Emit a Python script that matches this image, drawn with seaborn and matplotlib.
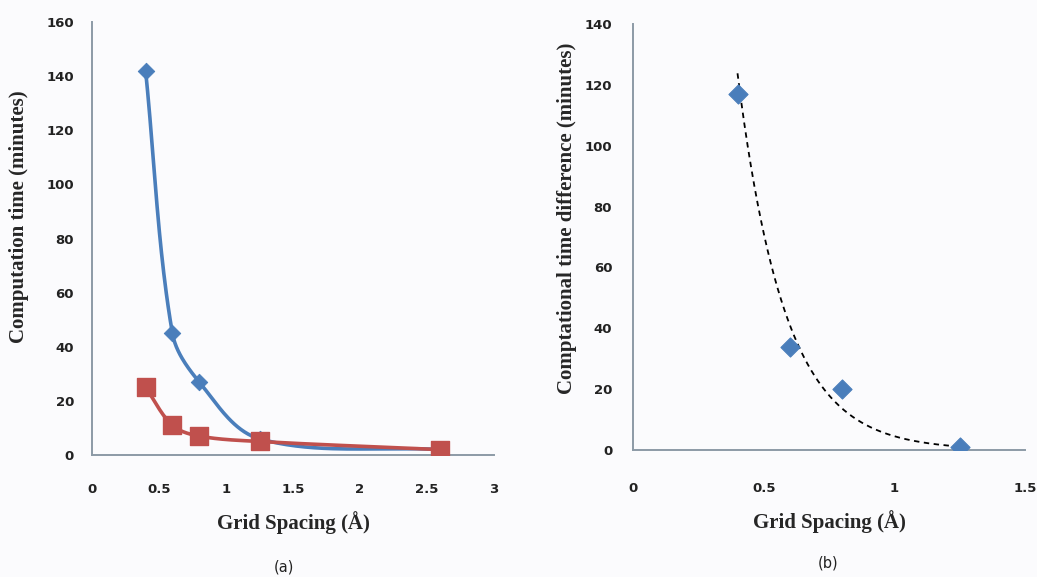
import numpy as np
import pandas as pd
import seaborn as sns
import matplotlib.pyplot as plt

# panel (a): computation time vs grid spacing
spacing_a = [0.4, 0.6, 0.8, 1.25, 2.6]
time_blue = [142, 45, 27, 6, 2]
time_red = [25, 11, 7, 5, 2]

# panel (b): time difference vs grid spacing
spacing_b = [0.4, 0.6, 0.8, 1.25]
time_diff = [117, 34, 20, 1]

BLUE = '#4a7ebb'
RED = '#c0504d'
SPINE = '#8c9aa6'
BG = '#fbfbfd'


def smooth_curve(x, y, xscale, yscale, n=40):
    """Smoothed line through the points (bezier, handles scaled by segment length)."""
    p = np.column_stack([np.asarray(x) / xscale, np.asarray(y) / yscale])
    out = []
    for i in range(len(p) - 1):
        p1, p2 = p[i], p[i + 1]
        p0 = p[i - 1] if i > 0 else p1
        p3 = p[i + 2] if i + 2 < len(p) else p2
        d = np.linalg.norm(p2 - p1)
        t1 = p2 - p0
        t2 = p3 - p1
        t1 = t1 / np.linalg.norm(t1)
        t2 = t2 / np.linalg.norm(t2)
        c1 = p1 + t1 * d / 3
        c2 = p2 - t2 * d / 3
        t = np.linspace(0, 1, n)[:, None]
        seg = (1 - t) ** 3 * p1 + 3 * (1 - t) ** 2 * t * c1 + 3 * (1 - t) * t ** 2 * c2 + t ** 3 * p2
        out.append(seg)
    out = np.vstack(out)
    return out[:, 0] * xscale, out[:, 1] * yscale


def style_axes(ax):
    sns.despine(ax=ax)
    for side in ['left', 'bottom']:
        ax.spines[side].set_color(SPINE)
        ax.spines[side].set_linewidth(1.4)
    ax.set_facecolor(BG)
    ax.tick_params(length=0, labelsize=9.5)
    for lab in ax.get_xticklabels() + ax.get_yticklabels():
        lab.set_fontweight('bold')
        lab.set_color('#222222')


sns.set_style('white')
plt.rcParams['font.family'] = ['DejaVu Sans']

fig = plt.figure(figsize=(10.37, 5.77), dpi=100, facecolor=BG)
ax1 = fig.add_axes([0.0887, 0.2114, 0.3877, 0.7505])
ax2 = fig.add_axes([0.6104, 0.2201, 0.3780, 0.7383])

label_font = dict(family='Liberation Serif', fontweight='bold', fontsize=15)

# ---- panel (a)
bx, by = smooth_curve(spacing_a, time_blue, 3 / 402, 160 / 433)
rx, ry = smooth_curve(spacing_a, time_red, 3 / 402, 160 / 433)
sns.lineplot(x=bx, y=by, ax=ax1, color=BLUE, linewidth=2.6, sort=False)
sns.lineplot(x=rx, y=ry, ax=ax1, color=RED, linewidth=2.6, sort=False)
sns.scatterplot(x=spacing_a, y=time_blue, ax=ax1, marker='D', s=70, color=BLUE, edgecolor=BLUE, zorder=3)
sns.scatterplot(x=spacing_a, y=time_red, ax=ax1, marker='s', s=150, color=RED, edgecolor=RED, zorder=4)
ax1.set_xlim(0, 3)
ax1.set_ylim(0, 160)
ax1.set_xticks(np.arange(0, 3.01, 0.5))
ax1.set_xticklabels(['0', '0.5', '1', '1.5', '2', '2.5', '3'])
ax1.set_yticks(np.arange(0, 161, 20))
ax1.tick_params(axis='x', pad=20)
ax1.tick_params(axis='y', pad=13)
ax1.set_xlabel('Grid Spacing (Å)', labelpad=11, **label_font)
ax1.set_ylabel('Computation time (minutes)', **label_font)
ax1.yaxis.set_label_coords(-0.156, 0.55)
style_axes(ax1)

# ---- panel (b): exponential trendline fitted to the points
coef = np.polyfit(spacing_b, np.log(time_diff), 1)
tx = np.linspace(min(spacing_b), max(spacing_b), 200)
ty = np.exp(np.polyval(coef, tx))
sns.lineplot(x=tx, y=ty, ax=ax2, color='black', linewidth=1.3, linestyle=(0, (3, 2.5)))
sns.scatterplot(x=spacing_b, y=time_diff, ax=ax2, marker='D', s=95, color=BLUE, edgecolor=BLUE, zorder=3)
ax2.set_xlim(0, 1.5)
ax2.set_ylim(0, 140)
ax2.set_xticks([0, 0.5, 1, 1.5])
ax2.set_xticklabels(['0', '0.5', '1', '1.5'])
ax2.set_yticks(np.arange(0, 141, 20))
ax2.tick_params(axis='x', pad=23)
ax2.tick_params(axis='y', pad=15)
ax2.set_xlabel('Grid Spacing (Å)', labelpad=11, **label_font)
ax2.set_ylabel('Comptational time difference (minutes)', **label_font)
ax2.yaxis.set_label_coords(-0.143, 0.545)
style_axes(ax2)

fig.text(284 / 1037, 1 - 567 / 577, '(a)', ha='center', va='center', fontsize=10.5, color='#222222')
fig.text(828 / 1037, 1 - 563 / 577, '(b)', ha='center', va='center', fontsize=10.5, color='#222222')

fig.savefig('out.png', dpi=100, facecolor=BG)
